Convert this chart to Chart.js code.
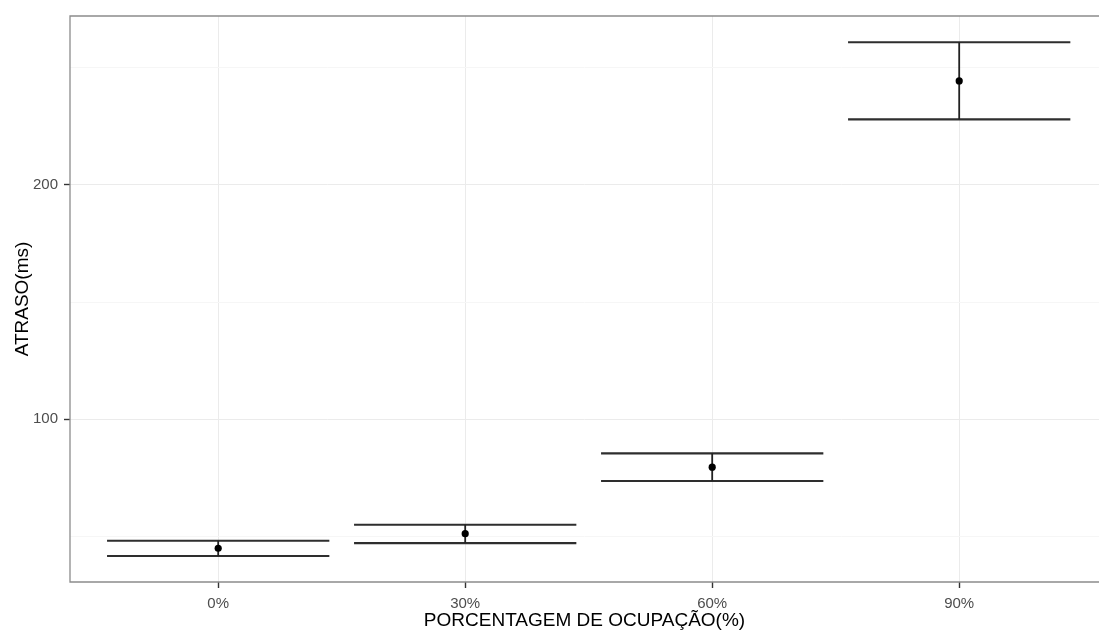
<!DOCTYPE html>
<html><head><meta charset="utf-8">
<script src="https://cdn.jsdelivr.net/npm/chart.js@4"></script>
<style>html,body{margin:0;padding:0;background:#fff;overflow:hidden;width:1099px;height:632px}canvas{display:block}</style>
</head><body><canvas id="c" width="1099" height="632"></canvas>
<script>
// ---- data ----
const categories = ['0%', '30%', '60%', '90%'];
const meanDelay = [45.0, 51.2, 79.6, 244.4];
const upperCI   = [48.2, 55.0, 85.5, 260.9];
const lowerCI   = [41.7, 47.2, 73.7, 228.0];
const yMajorTicks = [100, 200];
const yMinorTicks = [50, 150, 250];
const xTitle = 'PORCENTAGEM DE OCUPAÇÃO(%)';
const yTitle = 'ATRASO(ms)';

const halfWidth = 0.45;
const whiskers = [];
const stems = [];
categories.forEach((c, i) => {
  whiskers.push({x: i - halfWidth, y: upperCI[i]}, {x: i + halfWidth, y: upperCI[i]}, {x: i, y: null});
  whiskers.push({x: i - halfWidth, y: lowerCI[i]}, {x: i + halfWidth, y: lowerCI[i]}, {x: i, y: null});
  stems.push({x: i, y: lowerCI[i]}, {x: i, y: upperCI[i]}, {x: i, y: null});
});
const points = meanDelay.map((v, i) => ({x: i, y: v}));

// panel frame: left, top and bottom edges (the right edge lies beyond the picture)
const panelBorder = {
  id: 'panelBorder',
  afterDatasetsDraw(chart) {
    const {ctx, chartArea: a} = chart;
    ctx.save();
    ctx.strokeStyle = '#8c8c8c';
    ctx.lineWidth = 1.3;
    ctx.beginPath();
    ctx.moveTo(chart.width + 2, a.top);
    ctx.lineTo(a.left, a.top);
    ctx.lineTo(a.left, a.bottom);
    ctx.lineTo(chart.width + 2, a.bottom);
    ctx.stroke();
    ctx.restore();
  }
};

const isMajor = v => yMajorTicks.includes(v);

new Chart(document.getElementById('c'), {
  type: 'scatter',
  data: {
    datasets: [
      {label: 'mean', data: points, pointRadius: 3.6, pointHoverRadius: 3.6,
       backgroundColor: '#000', borderColor: '#000', borderWidth: 0, showLine: false},
      {label: 'stems', data: stems, showLine: true, spanGaps: false, pointRadius: 0,
       borderColor: '#222', borderWidth: 1.8},
      {label: 'whiskers', data: whiskers, showLine: true, spanGaps: false, pointRadius: 0,
       borderColor: '#2e2e2e', borderWidth: 2.1}
    ]
  },
  options: {
    responsive: false,
    animation: false,
    events: [],
    layout: {autoPadding: false, padding: {top: 16, right: 0, left: 0, bottom: 0}},
    plugins: {legend: {display: false}, tooltip: {enabled: false}},
    scales: {
      x: {
        type: 'linear', min: -0.6, max: 3.566,
        afterBuildTicks: s => { s.ticks = categories.map((c, i) => ({value: i})); },
        afterFit: s => { s.height = 50; s.paddingLeft = 0; s.paddingRight = 0; },
        ticks: {
          callback: v => categories[v] ?? '',
          color: '#4d4d4d', font: {family: 'Liberation Sans, Arial, sans-serif', size: 15},
          padding: 7, maxRotation: 0, autoSkip: false
        },
        grid: {color: '#ebebeb', lineWidth: 1, tickColor: '#333', tickLength: 6, tickWidth: 1.4},
        border: {display: false},
        title: {display: true, text: xTitle, color: '#000',
                font: {family: 'Liberation Sans, Arial, sans-serif', size: 19},
                padding: {top: 0, bottom: 0}}
      },
      y: {
        type: 'linear', min: 30.6, max: 272.1,
        afterBuildTicks: s => { s.ticks = yMinorTicks.concat(yMajorTicks).sort((a, b) => a - b).map(v => ({value: v})); },
        afterFit: s => { s.width = 70; },
        ticks: {
          callback: v => isMajor(v) ? String(v) : '',
          color: '#4d4d4d', font: {family: 'Liberation Sans, Arial, sans-serif', size: 15},
          padding: 6, autoSkip: false
        },
        grid: {
          color: c => isMajor(c.tick && c.tick.value) ? '#ebebeb' : '#f6f6f6',
          tickColor: c => isMajor(c.tick && c.tick.value) ? '#333' : 'rgba(0,0,0,0)',
          lineWidth: 1, tickLength: 6, tickWidth: 1.4
        },
        border: {display: false},
        title: {display: true, text: yTitle, color: '#000',
                font: {family: 'Liberation Sans, Arial, sans-serif', size: 19},
                padding: {top: 11, bottom: 0}}
      }
    }
  },
  plugins: [panelBorder]
});
</script>
</body></html>
